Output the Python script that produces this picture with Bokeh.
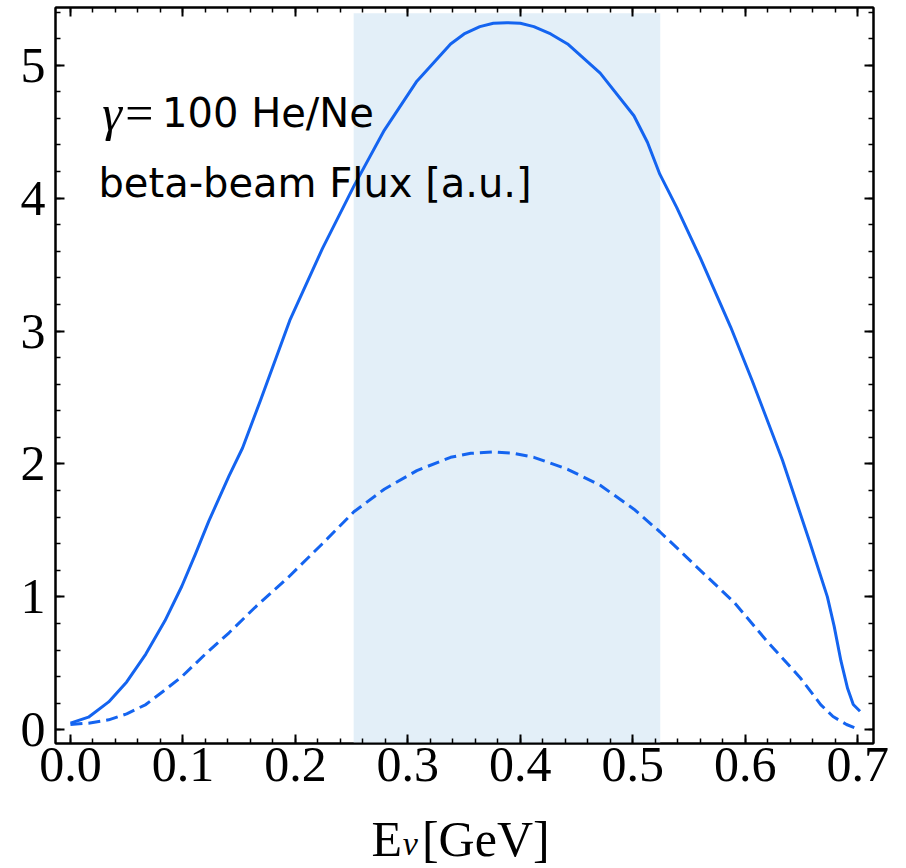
from bokeh.plotting import figure
from bokeh.models import Range1d, FixedTicker, LinearAxis, PrintfTickFormatter, Label
from bokeh.layouts import column
from bokeh.embed import file_html
from bokeh.resources import INLINE

# ---- data ----
solid_E = [0.0, 0.016, 0.034, 0.050, 0.067, 0.084, 0.099, 0.111, 0.123, 0.141, 0.153, 0.169,
           0.195, 0.224, 0.252, 0.279, 0.308, 0.338, 0.350, 0.364, 0.376, 0.388, 0.400, 0.412,
           0.427, 0.442, 0.471, 0.501, 0.513,
           0.524, 0.539, 0.560, 0.587, 0.606, 0.633, 0.657, 0.673, 0.679, 0.685, 0.691, 0.696, 0.702]
solid_flux = [0.05, 0.095, 0.21, 0.36, 0.57, 0.82, 1.08, 1.32, 1.57, 1.91, 2.12, 2.48,
              3.08, 3.62, 4.09, 4.51, 4.88, 5.16, 5.235, 5.29, 5.315, 5.32, 5.315, 5.29,
              5.235, 5.16, 4.94, 4.62, 4.42,
              4.18, 3.93, 3.55, 3.03, 2.63, 2.03, 1.42, 1.00, 0.78, 0.52, 0.31, 0.19, 0.14]

dashed_E = [0.0, 0.016, 0.034, 0.050, 0.067, 0.084, 0.099, 0.120, 0.141, 0.164, 0.194, 0.224,
            0.252, 0.279, 0.308, 0.338, 0.356, 0.376, 0.394, 0.412, 0.442, 0.471, 0.501, 0.524,
            0.539, 0.560, 0.590, 0.619, 0.649, 0.667, 0.678, 0.690, 0.699]
dashed_flux = [0.04, 0.05, 0.075, 0.12, 0.19, 0.30, 0.40, 0.57, 0.73, 0.92, 1.15, 1.40,
               1.64, 1.81, 1.95, 2.05, 2.08, 2.09, 2.08, 2.05, 1.96, 1.84, 1.66, 1.49,
               1.37, 1.20, 0.96, 0.67, 0.39, 0.19, 0.10, 0.04, 0.01]

band_E = [0.2518, 0.5244]
band_top = 5.39

x_ticks = [0.0, 0.1, 0.2, 0.3, 0.4, 0.5, 0.6, 0.7]
y_ticks = [0, 1, 2, 3, 4, 5]
x_minor = [round(i * 0.02, 2) for i in range(0, 36)]
y_minor = [round(i * 0.2, 1) for i in range(0, 28)]

BLUE = "#1464f0"
SHADE = "#e3eff8"

p = figure(frame_width=818, frame_height=736,
           x_range=Range1d(-0.0133, 0.714), y_range=Range1d(-0.103, 5.434),
           output_backend="svg", toolbar_location=None,
           min_border_left=55, min_border_right=33, min_border_top=7, min_border_bottom=68)
p.grid.visible = False
p.outline_line_color = "black"
p.outline_line_width = 2
p.background_fill_color = "white"
p.border_fill_color = "white"

p.quad(left=[band_E[0]], right=[band_E[1]], bottom=[-1.0], top=[band_top],
       fill_color=SHADE, line_color=None)

p.line(solid_E, solid_flux, line_color=BLUE, line_width=3, line_join="round")
p.line(dashed_E, dashed_flux, line_color=BLUE, line_width=3, line_dash="12 6", line_join="round")


def style(ax, ticks, minor, show_labels, fmt):
    ax.ticker = FixedTicker(ticks=ticks, minor_ticks=minor)
    ax.axis_line_color = "black"
    ax.axis_line_width = 2
    ax.major_tick_in = 9
    ax.major_tick_out = 0
    ax.minor_tick_in = 5
    ax.minor_tick_out = 0
    ax.major_tick_line_color = "black"
    ax.major_tick_line_width = 2
    ax.minor_tick_line_color = "black"
    ax.minor_tick_line_width = 1.5
    ax.formatter = PrintfTickFormatter(format=fmt)
    if show_labels:
        ax.major_label_text_font = "Liberation Serif"
        ax.major_label_text_font_size = "50px"
        ax.major_label_text_color = "black"
    else:
        ax.major_label_text_font_size = "0px"
        ax.major_label_text_color = None
        ax.major_label_standoff = 0


xb = p.xaxis[0]
yl = p.yaxis[0]
style(xb, x_ticks, x_minor, True, "%.1f")
style(yl, y_ticks, y_minor, True, "%d")
xb.major_label_standoff = 4
yl.major_label_standoff = 10

xt = LinearAxis()
style(xt, x_ticks, x_minor, False, "%.1f")
p.add_layout(xt, "above")
yr = LinearAxis()
style(yr, y_ticks, y_minor, False, "%d")
p.add_layout(yr, "right")

# annotations inside the plot
p.add_layout(Label(x=0.0282, y=4.644, text="γ=", text_font="Liberation Serif",
                   text_font_style="italic", text_font_size="50px", text_color="black",
                   text_baseline="alphabetic", text_align="left"))
p.add_layout(Label(x=0.0815, y=4.644, text="100 He/Ne", text_font="DejaVu Sans",
                   text_font_size="40px", text_color="black",
                   text_baseline="alphabetic", text_align="left"))
p.add_layout(Label(x=0.0249, y=4.117, text="beta-beam Flux [a.u.]", text_font="DejaVu Sans",
                   text_font_size="40px", text_color="black",
                   text_baseline="alphabetic", text_align="left"))

# strip below the plot carrying the x-axis title E_nu[GeV]
t = figure(frame_width=818, frame_height=57, x_range=p.x_range, y_range=Range1d(0, 1),
           output_backend="svg", toolbar_location=None,
           min_border_left=55, min_border_right=33, min_border_top=0, min_border_bottom=0)
t.axis.visible = False
t.grid.visible = False
t.outline_line_color = None
t.background_fill_color = "white"
t.border_fill_color = "white"

t.add_layout(Label(x=0.2676, y=0.509, text="E", text_font="Liberation Serif",
                   text_font_size="50px", text_color="black",
                   text_baseline="alphabetic", text_align="left"))
t.add_layout(Label(x=0.2955, y=0.43, text="ν", text_font="Liberation Serif",
                   text_font_style="italic", text_font_size="34px", text_color="black",
                   text_baseline="alphabetic", text_align="left"))
t.add_layout(Label(x=0.3125, y=0.509, text="[GeV]", text_font="Liberation Serif",
                   text_font_size="50px", text_color="black",
                   text_baseline="alphabetic", text_align="left"))

layout = column(p, t, spacing=0)
open("out.html", "w").write(file_html(layout, INLINE))
